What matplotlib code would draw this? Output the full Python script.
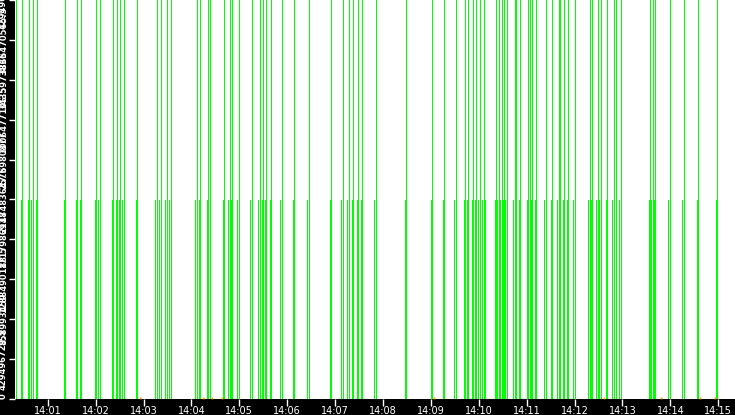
import datetime as dt
import matplotlib
matplotlib.use("Agg")
import matplotlib.pyplot as plt
import matplotlib.dates as mdates

# event times, seconds after 14:00:00
full_times = [20, 28, 37, 41, 47, 82, 97, 102, 121, 125, 142, 147, 151, 155, 172,
              197, 202, 209, 214, 247, 251, 261, 263, 281, 288, 291, 299, 316, 326,
              330, 334, 340, 353, 369, 387, 415, 430, 437, 443, 449, 454, 471, 509,
              542, 557, 571, 583, 587, 593, 597, 601, 606, 622, 625, 629, 632, 635,
              645, 647, 652, 662, 664, 667, 672, 684, 692, 700, 702, 707, 712, 720,
              739, 742, 749, 753, 761, 769, 772, 778, 815, 818, 821, 839, 857, 875, 899]
half_times = [18, 26, 35, 39, 45, 80, 95, 100, 119, 123, 140, 145, 149, 153, 170,
              195, 200, 207, 212, 245, 249, 259, 261, 279, 286, 289, 297, 314, 324,
              328, 332, 338, 351, 367, 385, 413, 428, 435, 441, 447, 452, 469, 507,
              540, 555, 569, 581, 585, 591, 595, 599, 604, 608, 620, 623, 627, 630, 633,
              643, 645, 650, 660, 662, 665, 670, 682, 690, 698, 700, 705, 710, 718,
              737, 740, 747, 751, 759, 767, 770, 776, 813, 816, 819, 837, 855, 873, 897]
full_value = 4294967295
half_value = 2147483647

# tiny values near zero
small_times = [176, 255, 266, 278, 544, 757, 828, 877, 896]
small_values = [15000000] * len(small_times)

ytick_values = [0, 429496729.5, 858993459, 1288490188.5, 1717986918, 2147483647.5,
                2576980377, 3006477106.5, 3435973836, 3865470565.5, 4294967295]
ytick_labels = ["0", "429496729.5", "858993459", "1288490188.5", "1717986918",
                "2147483647.5", "2576980377", "3006477106.5", "3435973836",
                "3865470565.5", "4294967295"]

base = dt.datetime(2024, 1, 1, 14, 0, 0)
to_dt = lambda secs: [base + dt.timedelta(seconds=s) for s in secs]

fig = plt.figure(figsize=(7.35, 4.15), dpi=100, facecolor="black")
ax = fig.add_axes([15 / 735, 16 / 415, 720 / 735, 399 / 415])
ax.set_facecolor("white")

green = "#00ff00"
ax.vlines(to_dt(half_times), 0, half_value, colors=green, linewidth=0.72, antialiased=False)
ax.vlines(to_dt(full_times), 0, full_value, colors=green, linewidth=0.72, antialiased=False)
ax.plot(to_dt(small_times), small_values, linestyle="none", marker="s",
        markersize=1.3, color="#ff9900", markeredgewidth=0)

ax.set_xlim(base + dt.timedelta(seconds=19), base + dt.timedelta(seconds=921))
ax.set_ylim(0, full_value)

ax.xaxis.set_major_locator(mdates.MinuteLocator())
ax.xaxis.set_major_formatter(mdates.DateFormatter("%H:%M"))
ax.set_yticks(ytick_values)
ax.set_yticklabels(ytick_labels, fontweight="bold")

ax.tick_params(axis="x", colors="white", length=5, width=1, pad=0, labelsize=7)
ax.tick_params(axis="y", colors="white", length=4, width=1, pad=1, labelsize=6,
               labelrotation=90)
ylabs = ax.get_yticklabels()
for lab in ylabs:
    lab.set_va("center")
ylabs[0].set_va("bottom")

for s in ax.spines.values():
    s.set_visible(False)

fig.savefig("out.png", dpi=100, facecolor="black")
